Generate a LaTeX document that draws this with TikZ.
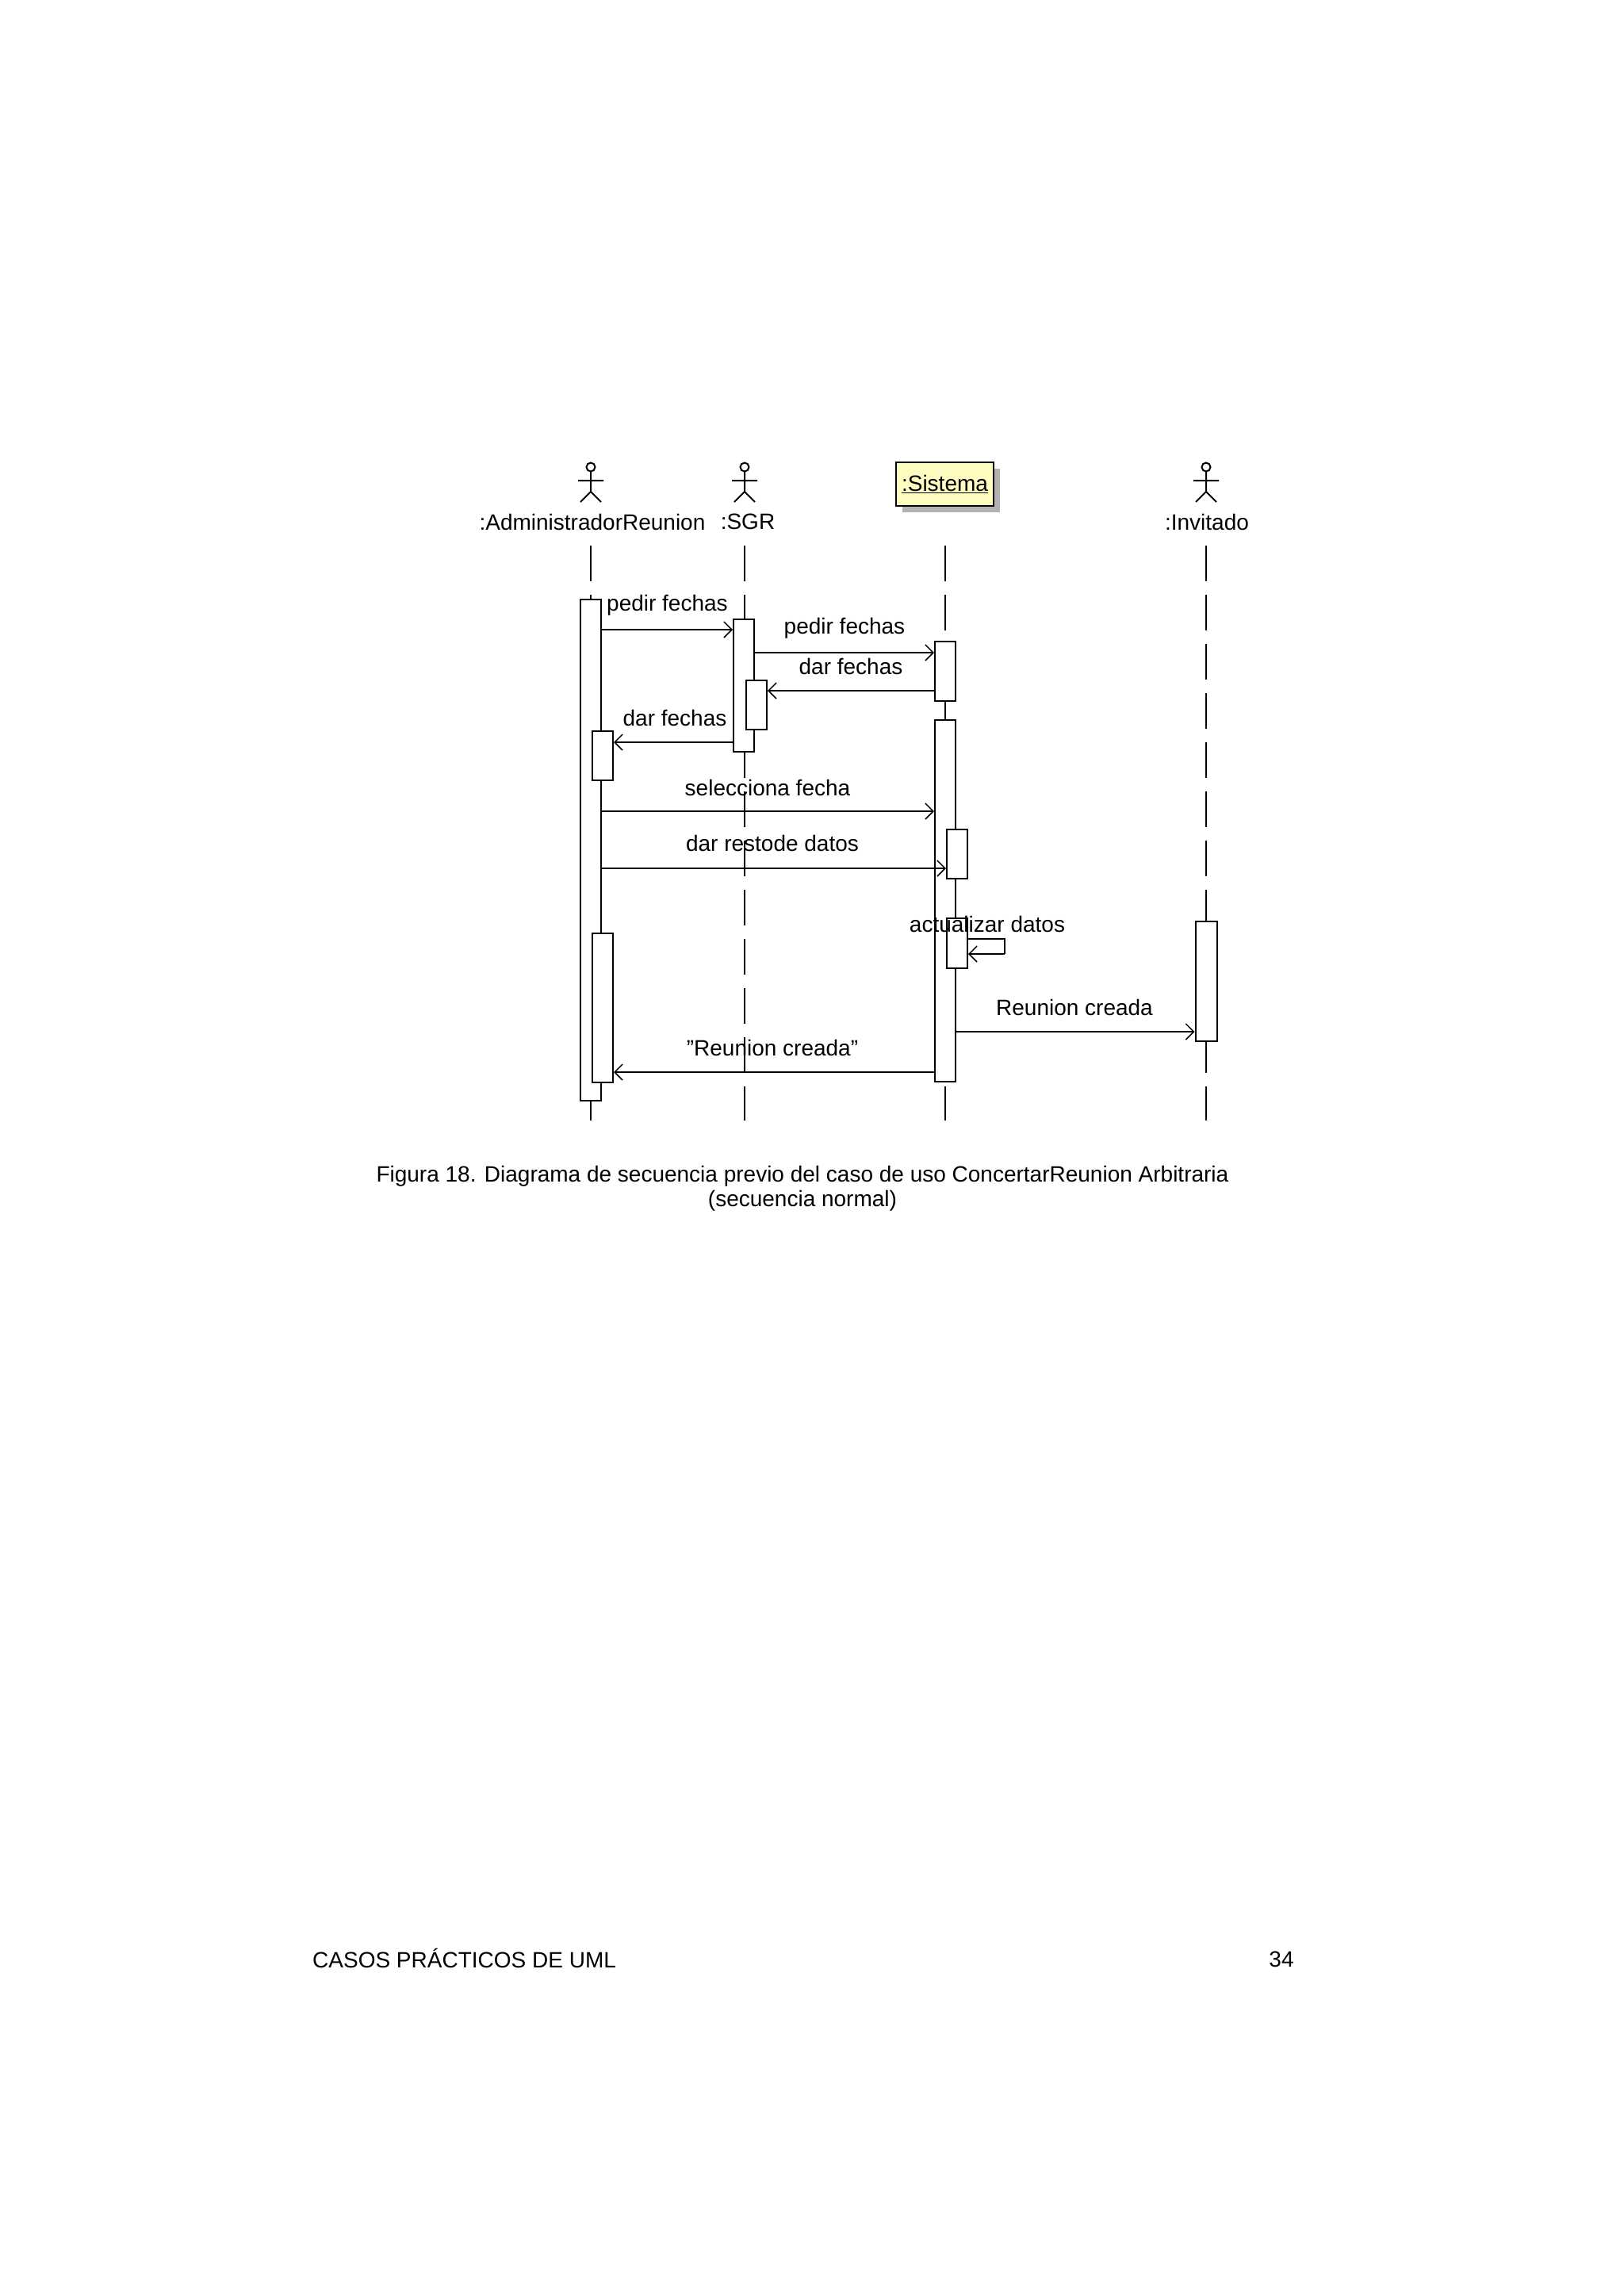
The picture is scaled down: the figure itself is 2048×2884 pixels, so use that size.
\documentclass[tikz,border=0pt]{standalone}
\usepackage{fontspec}
\setmainfont{Liberation Sans}
\usetikzlibrary{arrows.meta}
\begin{document}
\begin{tikzpicture}[x=1pt,y=-1pt,
  lbl/.style={font=\fontsize{28}{32}\selectfont,inner sep=0pt},
  act/.style={draw,fill=white,line width=2pt,inner sep=0pt,minimum width=26pt},
  life/.style={line width=2pt,dash pattern=on 45pt off 17pt},
  msg/.style={line width=2pt,-{Straight Barb[length=10pt,width=20pt,line width=1.5pt]}},
  actor/.style={line width=2pt}]
\useasboundingbox (0,0) rectangle (2048,2884);
% actors
\foreach \x in {745,939,1521}{
  \draw[actor] (\x,589) circle (5.5);
  \draw[actor] (\x,595) -- (\x,620) (\x-16,606) -- (\x+16,606) (\x-13,633) -- (\x,620) -- (\x+13,633);
}
\node[lbl] (ladm) at (747,658) {:AdministradorReunion};
\node[lbl] (lsgr) at (943,658) {:SGR};
\node[lbl] (linv) at (1522,658) {:Invitado};
\fill[gray!60] (1138,591) rectangle (1261,646);
\node[draw,line width=2pt,fill=yellow!25,minimum width=123pt,minimum height=55pt,lbl] (sis) at (1191.5,610.5) {\underline{:Sistema}};
% lifelines
\foreach \x in {745,939,1192,1521}{\draw[life] (\x,688) -- (\x,1413);}
% activations
\node[act,minimum height=632pt] (a1) at (745,1072) {};
\node[act,minimum height=62pt] (a2) at (760,953) {};
\node[act,minimum height=188pt] (a3) at (760,1271) {};
\node[act,minimum height=167pt] (s1) at (938,864.5) {};
\node[act,minimum height=62pt] (s2) at (954,889) {};
\node[act,minimum height=75pt] (y1) at (1192,846.5) {};
\node[act,minimum height=456pt] (y2) at (1192,1136) {};
\node[act,minimum height=62pt] (y3) at (1207,1077) {};
\node[act,minimum height=63pt] (y4) at (1207,1189.5) {};
\node[act,minimum width=27pt,minimum height=151pt] (i1) at (1521,1237.5) {};
% messages
\draw[msg] (a1.east |- 0,794) -- (s1.west |- 0,794);
\node[lbl,anchor=west] at (765,763) {pedir fechas};
\draw[msg] (s1.east |- 0,823) -- (y1.west |- 0,823);
\node[lbl] at (1065,792) {pedir fechas};
\draw[msg] (y1.west |- 0,871) -- (s2.east |- 0,871);
\node[lbl] at (1073,840) {dar fechas};
\draw[msg] (s1.west |- 0,936) -- (a2.east |- 0,936);
\node[lbl] at (851,905) {dar fechas};
\draw[msg] (a1.east |- 0,1023) -- (y2.west |- 0,1023);
\node[lbl] at (968,993) {selecciona fecha};
\draw[msg] (a1.east |- 0,1095) -- (y3.west |- 0,1095);
\node[lbl] at (974,1063) {dar restode datos};
\coordinate (c1) at (1267,1184);
\coordinate (c2) at (1267,1203);
\draw[line width=2pt] (y4.east |- 0,1184) -- (c1) -- (c2);
\draw[msg] (c2) -- (y4.east |- 0,1203);
\node[lbl] at (1245,1165) {actualizar datos};
\draw[msg] (y2.east |- 0,1301) -- (i1.west |- 0,1301);
\node[lbl] at (1355,1270) {Reunion creada};
\draw[msg] (y2.west |- 0,1352) -- (a3.east |- 0,1352);
\node[lbl] at (974,1321) {\char"22 Reunion creada\char"22};
% caption
\node[lbl] (cap1) at (1012,1483) {Figura 18. Diagrama de secuencia previo del caso de uso ConcertarReunion Arbitraria};
\node[lbl] (cap2) at (1012,1514) {(secuencia normal)};
\node[lbl,anchor=west] (foot) at (394,2469) {CASOS PRÁCTICOS DE UML};
\node[lbl] (pg) at (1616,2471) {34};
\end{tikzpicture}
\end{document}
